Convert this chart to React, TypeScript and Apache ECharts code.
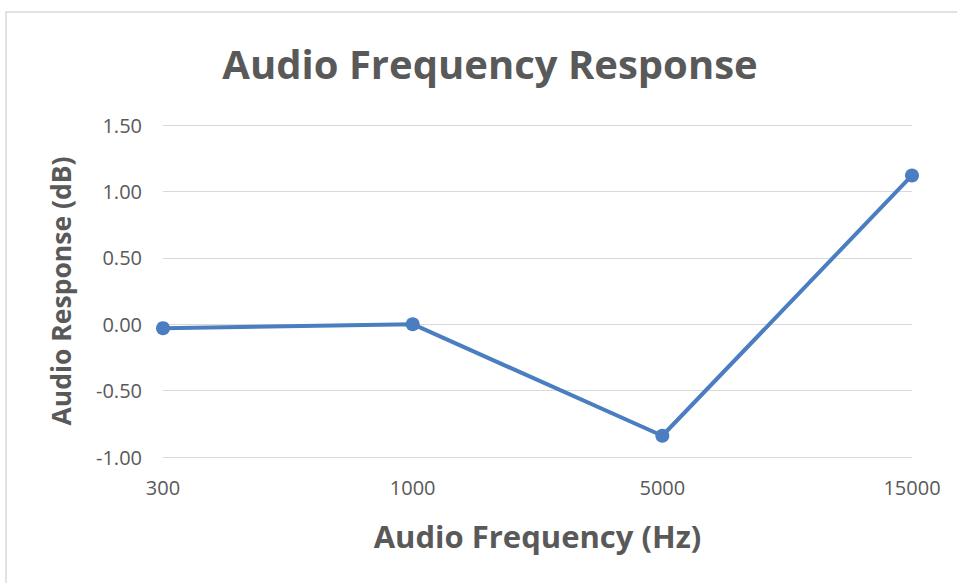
import React, { useEffect, useRef } from "react";
import * as echarts from "echarts";

const categories = ["300", "1000", "5000", "15000"];
const responseDb = [-0.03, 0.0, -0.84, 1.12];
const titleText = "Audio Frequency Response";
const xName = "Audio Frequency (Hz)";
const yName = "Audio Response (dB)";

export default function App() {
  const ref = useRef<HTMLDivElement>(null);
  useEffect(() => {
    if (!ref.current) return;
    const chart = echarts.init(ref.current, undefined, { renderer: "svg" });
    const font = "'Open Sans', 'Noto Sans', sans-serif";
    chart.setOption({
      animation: false,
      backgroundColor: "#ffffff",
      graphic: [
        {
          type: "rect",
          shape: { x: 6, y: 12, width: 1000, height: 600 },
          style: { fill: "none", stroke: "#d9d9d9", lineWidth: 1.5 },
          silent: true,
        },
      ],
      title: {
        text: titleText,
        left: 485,
        textAlign: "center",
        top: 38,
        textStyle: { fontFamily: font, fontSize: 40, fontWeight: "bold", color: "#595959" },
      },
      grid: { left: 163, right: 45, top: 125, bottom: 126 },
      xAxis: {
        type: "category",
        data: categories,
        boundaryGap: false,
        name: xName,
        nameLocation: "middle",
        nameGap: 63,
        nameTextStyle: { fontFamily: font, fontSize: 31, fontWeight: "bold", color: "#595959" },
        axisLine: { show: false },
        axisTick: { show: false },
        axisLabel: { fontFamily: font, fontSize: 20, color: "#595959", margin: 20 },
        splitLine: { show: false },
      },
      yAxis: {
        type: "value",
        min: -1,
        max: 1.5,
        interval: 0.5,
        name: yName,
        nameLocation: "middle",
        nameGap: 89,
        nameTextStyle: { fontFamily: font, fontSize: 26.5, fontWeight: "bold", color: "#595959" },
        axisLine: { show: false },
        axisTick: { show: false },
        axisLabel: {
          fontFamily: font,
          fontSize: 20,
          color: "#595959",
          margin: 21,
          formatter: (v: number) => v.toFixed(2),
        },
        splitLine: { lineStyle: { color: "#d9d9d9", width: 1 } },
      },
      series: [
        {
          type: "line",
          data: responseDb,
          symbol: "circle",
          symbolSize: 14,
          lineStyle: { color: "#4A7EC0", width: 4 },
          itemStyle: { color: "#4A7EC0" },
        },
      ],
    });
    return () => chart.dispose();
  }, []);
  return <div ref={ref} style={{ width: 957, height: 583, position: "absolute", left: 0, top: 0 }} />;
}
